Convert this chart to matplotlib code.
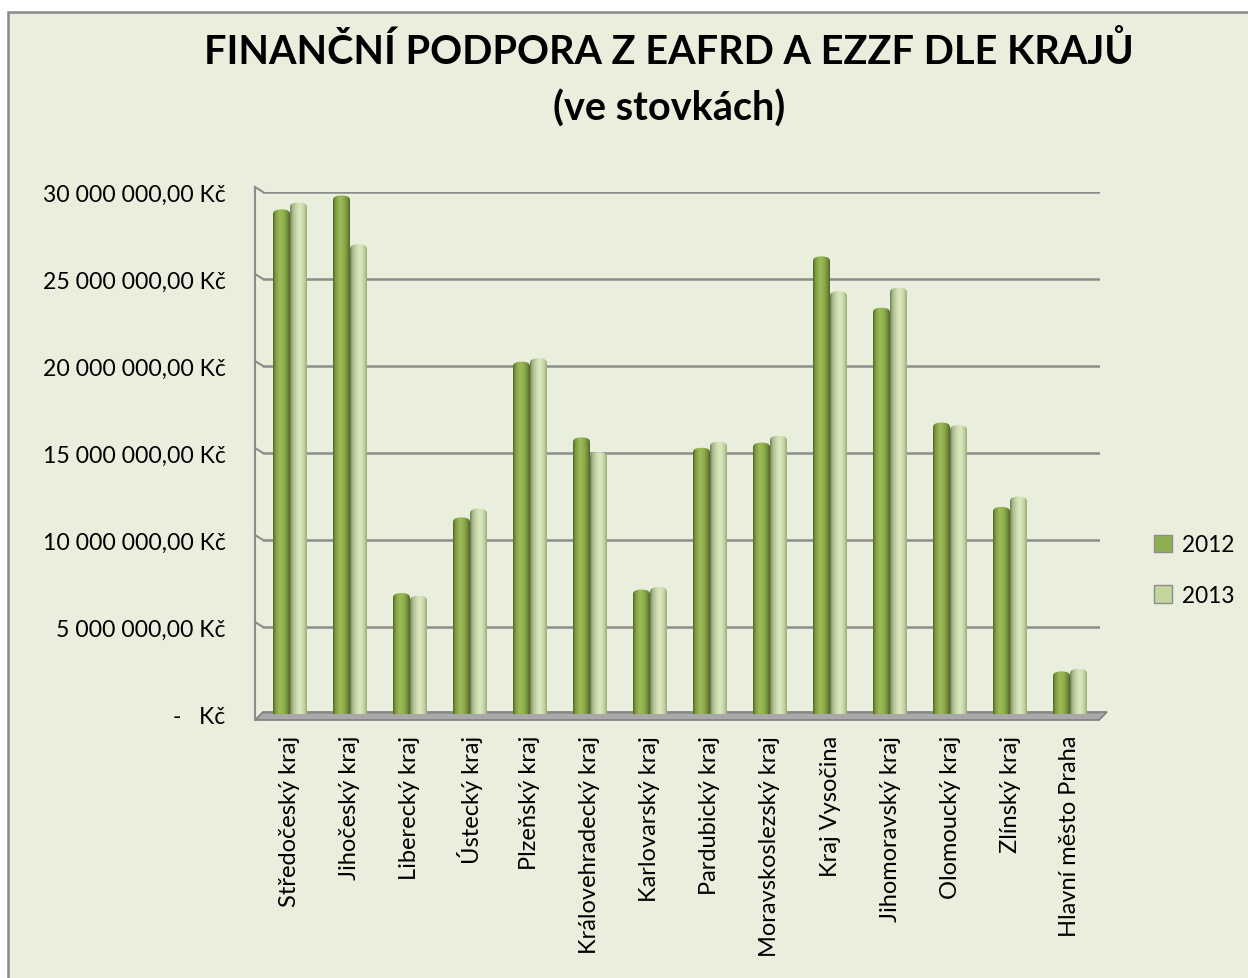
"""
Finanční podpora z EAFRD a EZZF dle krajů - sloupcový graf 2012 / 2013
"""
import matplotlib
matplotlib.use("Agg")
import matplotlib.pyplot as plt
import numpy as np
from matplotlib.colors import LinearSegmentedColormap
from matplotlib.patches import FancyBboxPatch, Patch, Polygon, Rectangle
from matplotlib.ticker import FuncFormatter

# data (Kč)
kraje = ["Středočeský kraj", "Jihočeský kraj", "Liberecký kraj", "Ústecký kraj",
         "Plzeňský kraj", "Královehradecký kraj", "Karlovarský kraj", "Pardubický kraj",
         "Moravskoslezský kraj", "Kraj Vysočina", "Jihomoravský kraj", "Olomoucký kraj",
         "Zlínský kraj", "Hlavní město Praha"]
podpora_2012 = [29.0e6, 29.8e6, 6.95e6, 11.3e6, 20.25e6, 15.9e6, 7.15e6,
                15.3e6, 15.6e6, 26.3e6, 23.35e6, 16.75e6, 11.9e6, 2.45e6]
podpora_2013 = [29.4e6, 27.0e6, 6.8e6, 11.8e6, 20.45e6, 15.05e6, 7.3e6,
                15.65e6, 16.0e6, 24.3e6, 24.5e6, 16.6e6, 12.5e6, 2.6e6]
roky = ["2012", "2013"]
y_ticks = [0, 5e6, 10e6, 15e6, 20e6, 25e6, 30e6]

FONT = "Lato"
BG = "#EAEEDD"
W, H = 1248, 979

# pozice v pixelech
AX_L, AX_R, AX_T, AX_B = 263, 1100, 193, 715

cmap_2012 = LinearSegmentedColormap.from_list("c12", [
    (0.0, "#4d6224"), (0.12, "#7b983c"), (0.38, "#9cbb59"),
    (0.65, "#8fae4e"), (0.88, "#6f8a35"), (1.0, "#4f6326")])
cmap_2013 = LinearSegmentedColormap.from_list("c13", [
    (0.0, "#6c775a"), (0.14, "#a7b98a"), (0.45, "#d3e2b4"),
    (0.65, "#d9e6c0"), (0.88, "#bccd98"), (1.0, "#97a67b")])


def fmt_kc(v, pos):
    if abs(v) < 1:
        return "-   Kč"
    return f"{v:,.2f}".replace(",", " ").replace(".", ",") + " Kč"


def draw_bar(ax, x0, width, h, cmap, asp):
    patch = FancyBboxPatch((x0, -2e6), width, h + 2e6,
                           boxstyle=f"round,pad=0,rounding_size={width / 2}",
                           mutation_aspect=asp, facecolor="none", edgecolor="none")
    ax.add_patch(patch)
    grad = np.linspace(0, 1, 64).reshape(1, -1)
    im = ax.imshow(grad, extent=(x0, x0 + width, -2e6, h), aspect="auto",
                   cmap=cmap, origin="lower", interpolation="bicubic", zorder=3)
    im.set_clip_path(patch)


fig = plt.figure(figsize=(W / 100, H / 100), dpi=100)
fig.patch.set_facecolor("white")

# pozadí s 3D dekorací
bg = fig.add_axes([0, 0, 1, 1], zorder=0)
bg.set_xlim(0, W)
bg.set_ylim(H, 0)
bg.axis("off")
bg.add_patch(Rectangle((8, 13), W + 20, H + 20, facecolor=BG, edgecolor="#8a8a8a", lw=1.8))

px_per_val = (AX_B - AX_T) / 30e6
for t in y_ticks[1:]:
    gy = AX_B - t * px_per_val
    bg.plot([255, AX_L], [gy - 5, gy], color="#8c8c8c", lw=1.5)
bg.plot([255, 255], [AX_T - 5, 721], color="#8c8c8c", lw=1.5)
bg.add_patch(Polygon([(255, 721), (263, 713), (1107, 713), (1099, 721)], closed=True,
                     facecolor="#a9a9a9", edgecolor="#7f7f7f", lw=1.2))

ax = fig.add_axes([AX_L / W, 1 - AX_B / H, (AX_R - AX_L) / W, (AX_B - AX_T) / H], zorder=1)
ax.patch.set_alpha(0)

x = np.arange(len(kraje))
bw = 17 / 60
asp = (4.5 / px_per_val) / (bw / 2)
for i in range(len(kraje)):
    draw_bar(ax, x[i] - bw, bw, podpora_2012[i], cmap_2012, asp)
    draw_bar(ax, x[i], bw, podpora_2013[i], cmap_2013, asp)

ax.set_xlim(-0.45, 13.5)
ax.set_ylim(0, 30e6)
ax.set_yticks(y_ticks)
ax.yaxis.set_major_formatter(FuncFormatter(fmt_kc))
ax.set_xticks(x)
ax.set_xticklabels(kraje, rotation=90, fontsize=17, family=FONT)
for lab in ax.get_yticklabels():
    lab.set_family(FONT)
    lab.set_fontsize(16.6)
ax.tick_params(axis="y", length=0, pad=27)
ax.tick_params(axis="x", length=0, pad=15)
ax.grid(axis="y", color="#8c8c8c", lw=1.8, zorder=0)
ax.set_axisbelow(True)
for s in ax.spines.values():
    s.set_visible(False)

fig.text(669 / W, 1 - 51 / H, "FINANČNÍ PODPORA Z EAFRD A EZZF DLE KRAJŮ",
         ha="center", va="center", fontsize=28.5, fontweight="bold", family=FONT)
fig.text(669 / W, 1 - 109 / H, "(ve stovkách)",
         ha="center", va="center", fontsize=28.5, fontweight="bold", family=FONT)

handles = [Patch(facecolor="#8fae4e", edgecolor="#8c8c8c"),
           Patch(facecolor="#c3d69b", edgecolor="#8c8c8c")]
leg = fig.legend(handles, roky, loc="center left", bbox_to_anchor=(1134 / W, 1 - 571 / H),
                 frameon=False, handlelength=0.8, handleheight=0.8, handletextpad=0.4,
                 labelspacing=1.3, prop={"family": FONT, "size": 16.3})

fig.savefig("out.png", dpi=100, facecolor="white")
